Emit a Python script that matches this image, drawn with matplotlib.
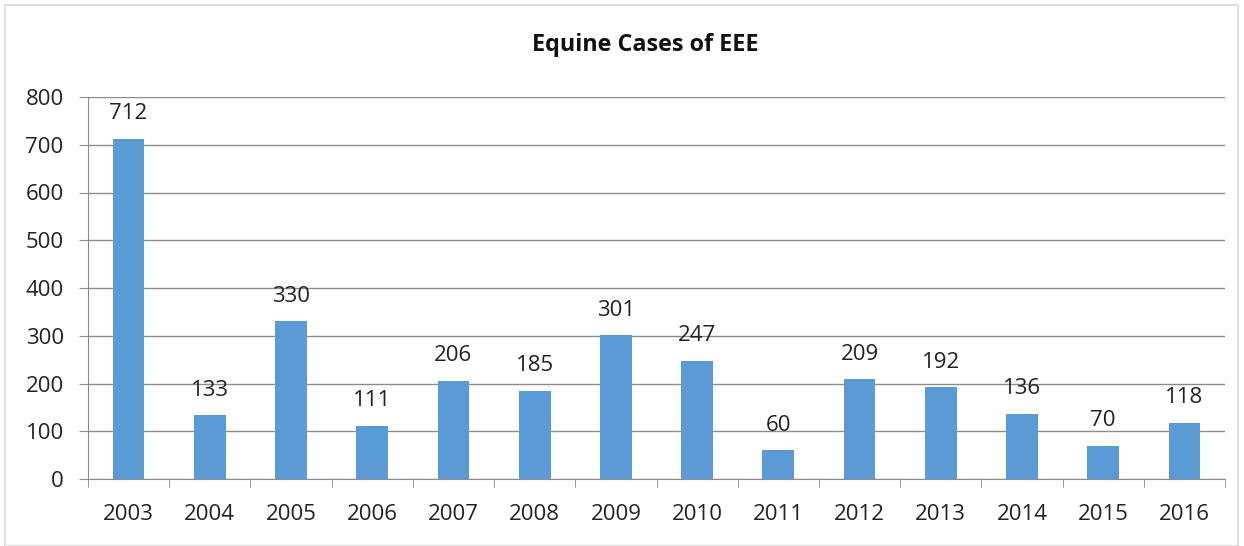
import matplotlib
matplotlib.use("Agg")
import matplotlib.pyplot as plt
from matplotlib.patches import Rectangle

years = ["2003", "2004", "2005", "2006", "2007", "2008", "2009",
         "2010", "2011", "2012", "2013", "2014", "2015", "2016"]
cases = [712, 133, 330, 111, 206, 185, 301, 247, 60, 209, 192, 136, 70, 118]
yticks = [0, 100, 200, 300, 400, 500, 600, 700, 800]

W, H = 1244, 546
fig = plt.figure(figsize=(W / 100, H / 100), dpi=100)
plt.rcParams['font.family'] = ['Open Sans', 'DejaVu Sans']

# chart area border
fig.patches.append(Rectangle((5 / W, 0.5 / H), (1238 - 5) / W, (541 - 0.5) / H,
                             transform=fig.transFigure, fill=False,
                             edgecolor="#d9d9d9", linewidth=1.2))

left, right, top, bottom = 88, 1225, 97, 479
ax = fig.add_axes([left / W, 1 - bottom / H, (right - left) / W, (bottom - top) / H])

FS = 16
x = list(range(len(years)))
bars = ax.bar(x, cases, width=0.39, color="#5b9bd5", zorder=3)
for xi, v in zip(x, cases):
    ax.annotate(str(v), (xi, v), xytext=(0, 10.5), textcoords="offset points",
                ha="center", va="bottom", fontsize=FS, color="#222222")

ax.set_xlim(-0.5, len(years) - 0.5)
ax.set_ylim(0, 800)
ax.set_yticks(yticks)
ax.set_yticklabels([str(t) for t in yticks], fontsize=FS, color="#222222")
ax.set_xticks(x)
ax.set_xticklabels(years, fontsize=FS, color="#222222")
ax.tick_params(axis="x", length=0, pad=18)
ax.tick_params(axis="y", length=6.5, color="#8c8c8c", pad=11)
# minor ticks at category boundaries
ax.set_xticks([i - 0.5 for i in range(len(years) + 1)], minor=True)
ax.tick_params(axis="x", which="minor", length=6, color="#8c8c8c")
ax.grid(axis="y", color="#8c8c8c", linewidth=1, zorder=0)
for s in ["top", "right"]:
    ax.spines[s].set_visible(False)
ax.spines["left"].set_color("#8c8c8c")
ax.spines["bottom"].set_color("#8c8c8c")

fig.text(645 / W, 1 - 45 / H, "Equine Cases of EEE", ha="center", va="center",
         fontsize=16.8, fontweight="bold", color="#111111")

fig.savefig("out.png", dpi=100)
